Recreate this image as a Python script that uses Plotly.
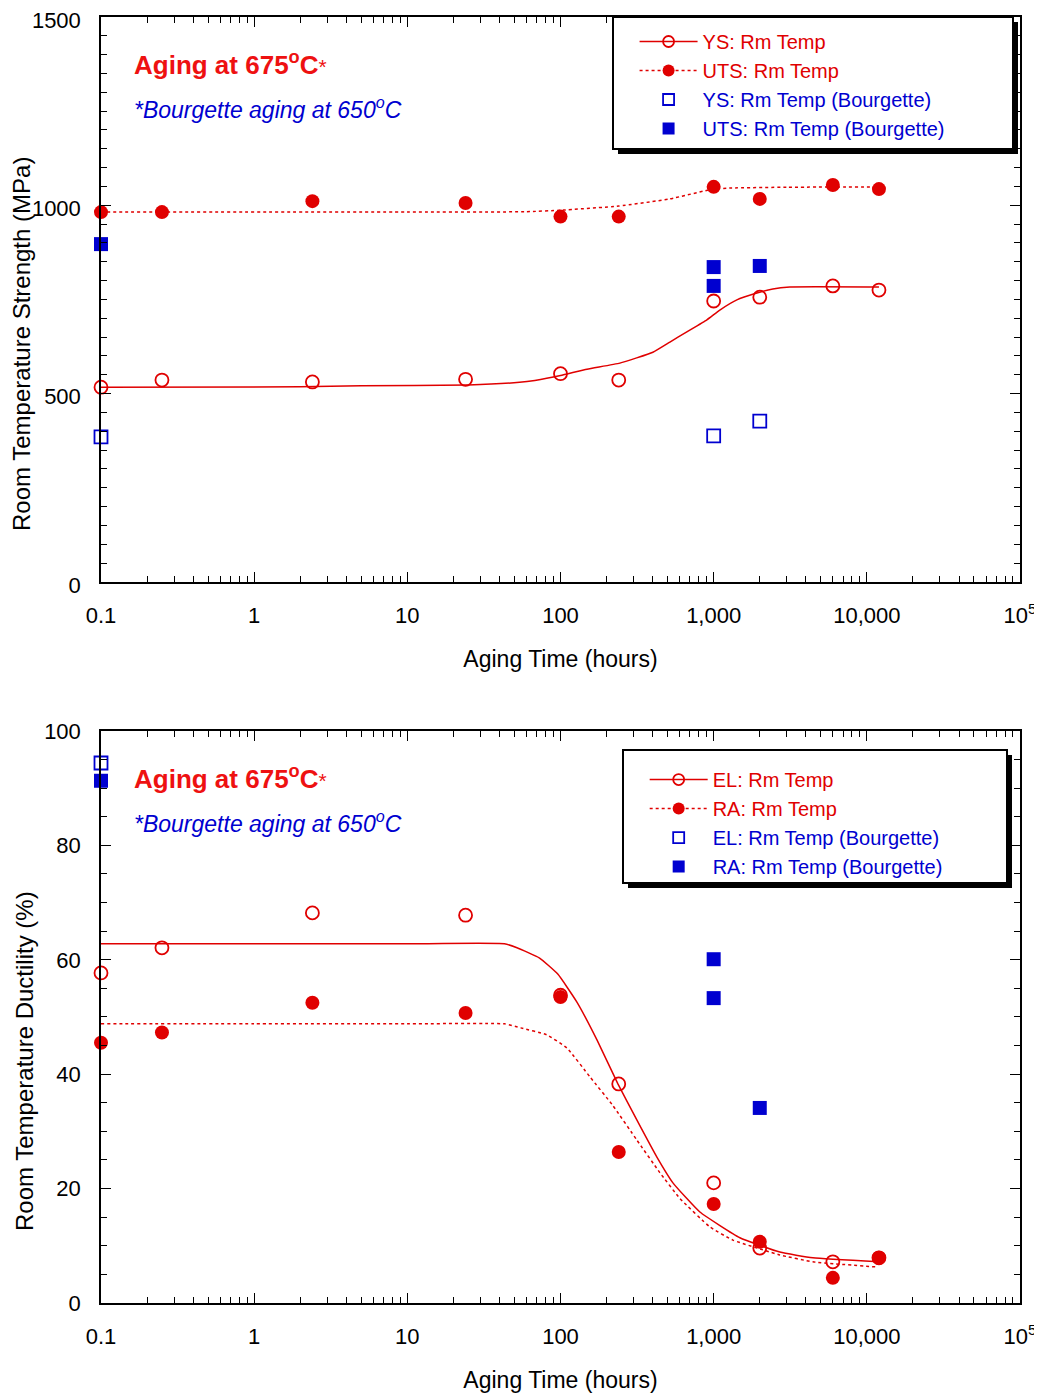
import plotly.graph_objects as go

# ---------------- data ----------------
# Top panel: room-temperature strength (MPa) vs aging time (hours)
t_rm = [0.1, 0.25, 2.4, 24, 100, 240, 1000, 2000, 6000, 12000]
ys_rm = [517, 536, 531, 538, 553, 536, 746, 756, 786, 775]
uts_rm = [982, 982, 1011, 1006, 970, 970, 1049, 1017, 1054, 1043]

t_ys_bg = [0.1, 1000, 2000]
ys_bg = [385, 388, 427]
t_uts_bg = [0.1, 1000, 1000, 2000]
uts_bg = [897, 836, 786, 839]

# fitted trend curves
ys_fit_t = [0.1, 2, 5, 25, 54, 68, 100, 149, 244, 401, 518, 668, 903, 1097, 1417, 1915, 2434, 3143, 12000]
ys_fit = [517, 518, 521, 523, 530, 535, 548, 565, 581, 610, 637, 664, 696, 722, 749, 767, 778, 783, 783]
uts_fit_t = [0.1, 10, 60, 100, 240, 518, 988, 1315, 3000, 12000]
uts_fit = [982, 982, 983, 987, 998, 1017, 1043, 1046, 1048, 1049]

# Bottom panel: room-temperature ductility (%) vs aging time (hours)
t_duct = [0.1, 0.25, 2.4, 24, 100, 240, 1000, 2000, 6000, 12000]
el_rm = [57.7, 62.1, 68.2, 67.8, 53.8, 38.3, 21.0, 9.6, 7.2, 7.9]
ra_rm = [45.5, 47.3, 52.5, 50.7, 53.5, 26.4, 17.3, 10.7, 4.4, 7.9]

t_el_bg = [0.1]
el_bg = [94.4]
t_ra_bg = [0.1, 1000, 1000, 2000]
ra_bg = [91.3, 60.1, 53.3, 34.1]

el_fit_t = [0.1, 1, 10, 43, 52, 73, 96, 128, 173, 237, 315, 426, 542, 813, 1483, 2704, 4443, 12000]
el_fit = [62.8, 62.8, 62.8, 62.8, 62.1, 60.3, 57.5, 52.6, 46.0, 38.3, 32.0, 25.5, 21.0, 15.9, 11.4, 8.9, 7.9, 7.2]
ra_fit_t = [0.1, 1, 10, 43, 55, 81, 110, 156, 220, 315, 445, 601, 945, 1335, 2704, 4443, 11600]
ra_fit = [48.8, 48.8, 48.8, 48.8, 48.1, 46.9, 44.6, 39.5, 34.5, 28.5, 22.8, 18.3, 13.3, 11.0, 8.4, 7.2, 6.3]

x_tickvals = [0.1, 1, 10, 100, 1000, 10000, 100000]
x_ticktext = ["0.1", "1", "10", "100", "1,000", "10,000", "10<sup>5</sup>"]

# ---------------- styling ----------------
RED = "#e00000"
BLUE = "#0000d0"
FONT = "Liberation Sans, Arial, sans-serif"
TICKFONT = 22

fig = go.Figure()


def add_panel(xa, ya, legend, t, a, a_fit_t, a_fit, b, b_fit_t, b_fit,
              ta_bg, a_bg, tb_bg, b_bg, names):
    # fit curves
    fig.add_trace(go.Scatter(x=a_fit_t, y=a_fit, mode="lines", xaxis=xa, yaxis=ya,
                             line=dict(color=RED, width=1.5, shape="spline", smoothing=0.4),
                             showlegend=False, hoverinfo="skip"))
    fig.add_trace(go.Scatter(x=b_fit_t, y=b_fit, mode="lines", xaxis=xa, yaxis=ya,
                             line=dict(color=RED, width=1.5, dash="3px,3px", shape="spline", smoothing=0.4),
                             showlegend=False, hoverinfo="skip"))
    # data markers
    fig.add_trace(go.Scatter(x=t, y=a, mode="markers", xaxis=xa, yaxis=ya, cliponaxis=False,
                             marker=dict(symbol="circle-open", size=13, color=RED, line=dict(width=1.8)),
                             showlegend=False))
    fig.add_trace(go.Scatter(x=t, y=b, mode="markers", xaxis=xa, yaxis=ya, cliponaxis=False,
                             marker=dict(symbol="circle", size=14, color=RED),
                             showlegend=False))
    fig.add_trace(go.Scatter(x=ta_bg, y=a_bg, mode="markers", xaxis=xa, yaxis=ya, cliponaxis=False,
                             marker=dict(symbol="square-open", size=13, color=BLUE, line=dict(width=1.8)),
                             showlegend=False))
    fig.add_trace(go.Scatter(x=tb_bg, y=b_bg, mode="markers", xaxis=xa, yaxis=ya, cliponaxis=False,
                             marker=dict(symbol="square", size=14, color=BLUE),
                             showlegend=False))
    # legend entries
    fig.add_trace(go.Scatter(x=[None], y=[None], mode="lines+markers", xaxis=xa, yaxis=ya, legend=legend,
                             name=f"<span style='color:{RED}'>{names[0]}</span>",
                             line=dict(color=RED, width=1.5),
                             marker=dict(symbol="circle-open", size=11, color=RED, line=dict(width=1.8))))
    fig.add_trace(go.Scatter(x=[None], y=[None], mode="lines+markers", xaxis=xa, yaxis=ya, legend=legend,
                             name=f"<span style='color:{RED}'>{names[1]}</span>",
                             line=dict(color=RED, width=1.5, dash="3px,3px"),
                             marker=dict(symbol="circle", size=12, color=RED)))
    fig.add_trace(go.Scatter(x=[None], y=[None], mode="markers", xaxis=xa, yaxis=ya, legend=legend,
                             name=f"<span style='color:{BLUE}'>{names[2]}</span>",
                             marker=dict(symbol="square-open", size=11, color=BLUE, line=dict(width=1.8))))
    fig.add_trace(go.Scatter(x=[None], y=[None], mode="markers", xaxis=xa, yaxis=ya, legend=legend,
                             name=f"<span style='color:{BLUE}'>{names[3]}</span>",
                             marker=dict(symbol="square", size=12, color=BLUE)))


add_panel("x", "y", "legend", t_rm, ys_rm, ys_fit_t, ys_fit, uts_rm, uts_fit_t, uts_fit,
          t_ys_bg, ys_bg, t_uts_bg, uts_bg,
          ["YS: Rm Temp", "UTS: Rm Temp", "YS: Rm Temp (Bourgette)", "UTS: Rm Temp (Bourgette)"])
add_panel("x2", "y2", "legend2", t_duct, el_rm, el_fit_t, el_fit, ra_rm, ra_fit_t, ra_fit,
          t_el_bg, el_bg, t_ra_bg, ra_bg,
          ["EL: Rm Temp", "RA: Rm Temp", "EL: Rm Temp (Bourgette)", "RA: Rm Temp (Bourgette)"])

minor_vals = [k * 10.0 ** d for d in range(-1, 5) for k in range(2, 10)]

xaxis_common = dict(
    type="log", range=[-1, 5], tickmode="array", tickvals=x_tickvals, ticktext=x_ticktext,
    ticks="inside", ticklen=10, tickwidth=1.3, tickcolor="black",
    showline=True, linecolor="black", linewidth=1.5, mirror="ticks",
    showgrid=False, zeroline=False, automargin=False, ticklabeloverflow="allow",
    tickfont=dict(family=FONT, size=TICKFONT, color="black"),
    ticklabelstandoff=13,
    minor=dict(tickmode="array", tickvals=minor_vals, ticks="inside", ticklen=6,
               tickwidth=1.2, tickcolor="black", showgrid=False),
    title=dict(text="Aging Time (hours)", font=dict(family=FONT, size=23, color="black"), standoff=24),
)
yaxis_common = dict(
    ticks="inside", ticklen=10, tickwidth=1.3, tickcolor="black",
    showline=True, linecolor="black", linewidth=1.5, mirror="ticks",
    showgrid=False, zeroline=False, automargin=False, ticklabeloverflow="allow",
    tickfont=dict(family=FONT, size=TICKFONT, color="black"),
    ticklabelstandoff=14,
)

# the page body adds an 8px offset; compensate so the plot areas land where the reference has them
fig.update_layout(
    width=1034, height=1389,
    margin=dict(l=93, r=22, t=9, b=94, autoexpand=False),
    paper_bgcolor="white", plot_bgcolor="white",
    font=dict(family=FONT, color="black"),
    xaxis=dict(domain=[0, 1], anchor="y", **xaxis_common),
    xaxis2=dict(domain=[0, 1], anchor="y2", **xaxis_common),
    yaxis=dict(domain=[0.5607, 1], anchor="x", range=[0, 1500], tickmode="array",
               tickvals=[0, 500, 1000, 1500], ticklabelshift=3,
               minor=dict(dtick=50, ticks="inside", ticklen=6, tickwidth=1.2, tickcolor="black"),
               **yaxis_common),
    yaxis2=dict(domain=[0, 0.4448], anchor="x2", range=[0, 100], tickmode="array",
                tickvals=[0, 20, 40, 60, 80, 100],
                minor=dict(dtick=5, ticks="inside", ticklen=6, tickwidth=1.2, tickcolor="black"),
                **yaxis_common),
    legend=dict(x=0.5806, y=0.9961, xanchor="left", yanchor="top", bgcolor="rgba(0,0,0,0)",
                borderwidth=0, font=dict(family=FONT, size=20), itemwidth=58,
                traceorder="normal", tracegroupgap=0),
    legend2=dict(x=0.5916, y=0.4222, xanchor="left", yanchor="top", bgcolor="rgba(0,0,0,0)",
                 borderwidth=0, font=dict(family=FONT, size=20), itemwidth=58,
                 traceorder="normal", tracegroupgap=0),
    showlegend=True,
)


def px_x(p):
    return (p - 101) / 919.0


def px_y(p):
    return (1303 - p) / 1286.0


shapes = []
for (x0, y0, x1, y1) in [(613, 17, 1013, 149), (623, 750, 1007, 883)]:
    shapes.append(dict(type="rect", xref="paper", yref="paper",
                       x0=px_x(x0 + 5), x1=px_x(x1 + 5), y0=px_y(y0 + 5), y1=px_y(y1 + 5),
                       fillcolor="black", line=dict(width=0), layer="above"))
    shapes.append(dict(type="rect", xref="paper", yref="paper",
                       x0=px_x(x0), x1=px_x(x1), y0=px_y(y0), y1=px_y(y1),
                       fillcolor="white", line=dict(color="black", width=2), layer="above"))
fig.update_layout(shapes=shapes)

annotations = []
for (title_y, sub_y) in [(64, 108), (778, 822)]:
    annotations.append(dict(xref="paper", yref="paper", x=px_x(132), y=px_y(title_y),
                            xanchor="left", yanchor="middle", showarrow=False,
                            text="<b>Aging at 675<sup>o</sup>C</b><span style='font-size:21px'>*</span>",
                            font=dict(family=FONT, size=26, color="#ee1111")))
    annotations.append(dict(xref="paper", yref="paper", x=px_x(132), y=px_y(sub_y),
                            xanchor="left", yanchor="middle", showarrow=False,
                            text="<i>*Bourgette aging at 650<sup>o</sup>C</i>",
                            font=dict(family=FONT, size=23, color=BLUE)))
annotations.append(dict(xref="paper", yref="paper", x=px_x(21), y=px_y(344), textangle=-90,
                        xanchor="center", yanchor="middle", showarrow=False,
                        text="Room Temperature Strength (MPa)",
                        font=dict(family=FONT, size=24, color="black")))
annotations.append(dict(xref="paper", yref="paper", x=px_x(24), y=px_y(1061), textangle=-90,
                        xanchor="center", yanchor="middle", showarrow=False,
                        text="Room Temperature Ductility (%)",
                        font=dict(family=FONT, size=24, color="black")))
fig.update_layout(annotations=annotations)

fig.write_html("out.html")
